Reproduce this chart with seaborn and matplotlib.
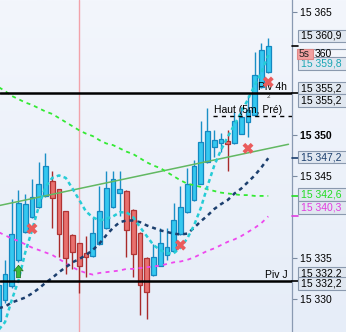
import numpy as np
import pandas as pd
import matplotlib
matplotlib.use("Agg")
import matplotlib.pyplot as plt
import seaborn as sns
from matplotlib.patches import Rectangle
from matplotlib.path import Path
from matplotlib.colors import LinearSegmentedColormap

# ---------------- data ----------------
opens  = [15327.4, 15329.9, 15331.6, 15334.8, 15338.2, 15340.0, 15341.2, 15342.6, 15344.4, 15343.4,
          15340.7, 15337.8, 15336.8, 15335.6, 15335.3, 15336.7, 15338.7, 15341.2, 15342.9, 15343.2,
          15340.9, 15338.1, 15335.0, 15332.9, 15334.1, 15335.4, 15335.9, 15337.9, 15340.6, 15342.1,
          15344.1, 15346.7, 15348.6, 15349.0, 15349.3, 15349.0, 15350.2, 15351.6, 15352.5, 15355.9,
          15357.7]
highs  = [15332.8, 15334.8, 15342.2, 15343.3, 15342.8, 15344.7, 15346.7, 15347.8, 15345.7, 15343.5,
          15340.8, 15337.9, 15336.9, 15337.7, 15340.0, 15343.8, 15345.7, 15345.7, 15345.7, 15343.3,
          15341.0, 15338.2, 15335.1, 15336.7, 15338.7, 15338.7, 15341.7, 15343.8, 15346.0, 15347.0,
          15351.8, 15353.3, 15350.6, 15350.3, 15350.7, 15352.8, 15353.5, 15354.9, 15360.1, 15361.3,
          15361.9]
lows   = [15326.7, 15329.5, 15331.4, 15334.6, 15338.1, 15339.9, 15341.1, 15342.5, 15338.7, 15335.2,
          15333.1, 15333.7, 15330.7, 15332.7, 15335.2, 15336.6, 15338.6, 15341.1, 15340.2, 15335.2,
          15332.7, 15328.1, 15327.6, 15332.8, 15334.0, 15334.8, 15335.8, 15337.8, 15340.5, 15342.0,
          15344.0, 15346.6, 15347.4, 15348.0, 15345.7, 15348.9, 15350.1, 15349.8, 15352.4, 15355.8,
          15357.6]
closes = [15331.7, 15333.1, 15338.0, 15341.7, 15341.6, 15342.5, 15344.0, 15346.2, 15342.3, 15338.0,
          15335.0, 15335.7, 15334.1, 15335.2, 15338.1, 15340.7, 15343.6, 15344.7, 15343.4, 15338.5,
          15335.5, 15331.7, 15330.9, 15335.2, 15336.9, 15336.4, 15339.7, 15341.2, 15344.1, 15346.3,
          15349.2, 15350.5, 15349.4, 15349.5, 15348.9, 15351.8, 15352.2, 15353.1, 15357.4, 15360.4,
          15360.9]

ma_cyan = [15326.2, 15327.2, 15329.9, 15332.3, 15335.7, 15338.4, 15341.3, 15343.7, 15344.8, 15345.1,
           15344.8, 15343.5, 15342.1, 15340.7, 15340.0, 15339.6, 15339.8, 15340.1, 15340.6, 15340.6,
           15340.0, 15338.8, 15337.7, 15336.6, 15336.0, 15335.6, 15335.6, 15336.3, 15337.4, 15339.0,
           15341.1, 15343.8, 15346.3, 15348.2, 15349.8, 15351.3, 15352.8, 15354.4, 15356.1, 15357.7,
           15359.8]
ma_navy = [15328.9, 15329.1, 15329.6, 15329.9, 15330.2, 15330.7, 15331.3, 15332.0, 15332.6, 15333.3,
           15333.9, 15334.5, 15334.9, 15335.4, 15336.0, 15336.8, 15337.8, 15338.7, 15339.4, 15339.6,
           15339.6, 15339.4, 15339.0, 15338.7, 15338.4, 15338.2, 15338.0, 15337.9, 15338.0, 15338.7,
           15339.5, 15340.2, 15341.0, 15341.6, 15342.1, 15342.9, 15343.5, 15344.3, 15345.1, 15346.1,
           15347.2]
ma_green = [15355.9, 15355.4, 15354.8, 15354.4, 15354.0, 15353.7, 15353.3, 15352.9, 15352.6, 15352.1,
            15351.6, 15351.1, 15350.6, 15350.2, 15349.9, 15349.4, 15349.0, 15348.8, 15348.4, 15348.0,
            15347.7, 15347.2, 15346.7, 15346.3, 15346.0, 15345.5, 15345.0, 15344.5, 15344.1, 15343.9,
            15343.7, 15343.4, 15343.2, 15343.0, 15342.9, 15342.8, 15342.7, 15342.7, 15342.6, 15342.6,
            15342.6]
ma_magenta = [15338.2, 15337.8, 15337.4, 15337.1, 15336.7, 15336.3, 15336.0, 15335.7, 15335.4, 15334.9,
              15334.4, 15333.9, 15333.5, 15333.2, 15333.0, 15333.2, 15333.3, 15333.4, 15333.5, 15333.7,
              15333.7, 15333.8, 15333.9, 15334.0, 15334.1, 15334.3, 15334.5, 15334.6, 15334.8, 15335.1,
              15335.5, 15335.9, 15336.2, 15336.6, 15337.0, 15337.3, 15337.7, 15338.2, 15338.7, 15339.3,
              15340.1]

trend_x = [0, 43]
trend_y = [15341.4, 15348.9]

piv_4h = 15355.2
piv_j = 15332.2
haut_pre = 15352.3
haut_start = 31.8
vline_idx = 12

sell_x = [5, 27, 37, 40]
sell_y = [15338.6, 15336.6, 15348.4, 15356.5]
buy_x = [3]
buy_y = [15333.4]

tick_vals = [15330, 15335, 15345, 15350, 15365]
tick_labels = ["15 330", "15 335", "15 345", "15 350", "15 365"]

# price boxes on the right: (text, text colour)
box_texts = ["15 360,9", "15 359,8", "15 355,2", "15 355,2",
             "15 347,2", "15 342,6", "15 340,3", "15 332,2", "15 332,2"]
box_colors = ["black", "#1aa6b4", "black", "black",
              "#1c3f6e", "#22dd22", "#e03ce0", "black", "black"]
box_pix_y = [36, 63.7, 88.2, 100.4, 157, 194.7, 207.5, 273, 283.5]

# ---------------- style ----------------
sns.set_theme(style="white")
plt.rcParams['font.family'] = ['Liberation Sans', 'DejaVu Sans']

W, H = 346, 332
fig = plt.figure(figsize=(W / 100, H / 100), dpi=100)

bg = fig.add_axes([0, 0, 1, 1], zorder=-1)
cmap = LinearSegmentedColormap.from_list('bgc', ['#f3f6fc', '#e6edf8'])
bg.imshow(np.linspace(0, 1, 200)[:, None], cmap=cmap, aspect='auto', extent=[0, 1, 0, 1])
bg.axis('off')

ax = fig.add_axes([0, 0, 292 / W, 1])
ax.set_facecolor('none')

XL = (0.26, 43.52)
YL = (15326.0, 15366.5)

idx = np.arange(len(opens))
df = pd.DataFrame(dict(i=idx, o=opens, h=highs, l=lows, c=closes))
up = (df.c >= df.o).values

# vertical pink marker
ax.axvline(vline_idx, color='#f2a2aa', lw=1.0, zorder=1)

# candles
wick_cols = np.where(up, '#1a8fc6', '#a82a2a')
ax.vlines(df.i, df.l, df.h, colors=wick_cols, lw=1.0, zorder=2)
body_h = np.maximum(np.abs(df.c - df.o), 0.35)
body_b = np.minimum(df.o, df.c)
ax.bar(df.i, body_h, bottom=body_b, width=0.72,
       color=np.where(up, '#34c8f0', '#e8706e'),
       edgecolor=np.where(up, '#1588c0', '#b03434'), linewidth=0.9, zorder=3)

# trend line
sns.lineplot(x=trend_x, y=trend_y, ax=ax, color='#62b862', lw=1.1, zorder=4)

# moving averages
sns.lineplot(x=idx, y=ma_green, ax=ax, color='#33ea33', lw=1.3, linestyle=(0, (2.2, 2.2)), zorder=4)
sns.lineplot(x=idx, y=ma_magenta, ax=ax, color='#ee48ee', lw=1.3, linestyle=(0, (2.2, 2.4)), zorder=4)
sns.lineplot(x=idx, y=ma_navy, ax=ax, color='#1c3f6e', lw=1.8, linestyle=(0, (1.6, 1.6)), zorder=4)
sns.lineplot(x=idx, y=ma_cyan, ax=ax, color='#26ccd6', lw=1.8, linestyle=(0, (1.6, 1.3)), zorder=4)

# pivot levels
ax.axhline(piv_4h, color='black', lw=1.8, zorder=4)
ax.axhline(piv_j, color='black', lw=1.8, zorder=4)
ax.hlines(haut_pre, haut_start, XL[1], colors='black', lw=1.0, linestyles=(0, (3, 3)), zorder=4)

ax.annotate("Piv 4h", xy=(XL[1], piv_4h), xytext=(-3.5, 0.6), textcoords='offset points',
            ha='right', va='bottom', fontsize=7.5, color='black', zorder=6)
ax.annotate("2", xy=(XL[1], piv_4h), xytext=(-17, -1.2), textcoords='offset points',
            ha='center', va='top', fontsize=4.5, color='#333333', zorder=6)
ax.annotate("Piv J", xy=(XL[1], piv_j), xytext=(-3.5, 0.6), textcoords='offset points',
            ha='right', va='bottom', fontsize=7.5, color='black', zorder=6)
ax.annotate("Haut (5m, Pré)", xy=(haut_start, haut_pre), xytext=(0.5, 1.0), textcoords='offset points',
            ha='left', va='bottom', fontsize=7.5, color='black', zorder=6)

# signals
ax.scatter(sell_x, sell_y, marker='X', s=62, color='#ea5c5c', edgecolor='none', zorder=6)
arrow = Path([(0, 1), (0.75, 0.1), (0.32, 0.1), (0.32, -1), (-0.32, -1), (-0.32, 0.1), (-0.75, 0.1), (0, 1)])
ax.scatter(buy_x, buy_y, marker=arrow, s=80, color='#3cba3c', edgecolor='#1e6e1e', linewidth=0.5, zorder=6)

# short coloured level ticks into the price scale
for v, col in [(piv_4h, 'black'), (ma_navy[-1], '#1c3f6e'), (ma_green[-1], '#22dd22'),
               (ma_magenta[-1], '#e03ce0'), (piv_j, 'black'), (closes[-1], 'black')]:
    ax.plot([XL[1], XL[1] + 0.9], [v, v], color=col, lw=1.2, clip_on=False, zorder=5)

# axes
ax.set_xlim(*XL)
ax.set_ylim(*YL)
ax.set_xticks([])
ax.set_xlabel('')
ax.set_ylabel('')
ax.yaxis.tick_right()
ax.set_yticks(tick_vals)
ax.set_yticklabels(tick_labels)
ax.tick_params(axis='y', direction='out', length=3.5, width=0.8, color='#7a8aa0', pad=2.5,
               labelsize=7.5, labelcolor='black')
for lab in ax.get_yticklabels():
    if lab.get_text() == "15 350":
        lab.set_fontweight('bold')
for s in ['top', 'left', 'bottom']:
    ax.spines[s].set_visible(False)
ax.spines['right'].set_color('#8a9ab2')
ax.spines['right'].set_linewidth(0.9)

# price boxes
def price_box(yc, text, color, z, fc='#e0e7f0', ec='#8a99ae', x0=298, x1=347, h=12.5, tx=301):
    fig.add_artist(Rectangle((x0 / W, 1 - (yc + h / 2) / H), (x1 - x0) / W, h / H,
                             transform=fig.transFigure, fc=fc, ec=ec, lw=0.8, zorder=z))
    fig.text(tx / W, 1 - yc / H, text, color=color, fontsize=7.5, va='center', ha='left', zorder=z + 0.5)

# current-price box, mostly hidden by the boxes drawn over it
price_box(55.5, "", 'black', 9, fc='#f2f5fa')
fig.text(315 / W, 1 - 54.3 / H, "360", color='black', fontsize=7.5, va='center', ha='left', zorder=9.5)

for k, (t, c, yc) in enumerate(zip(box_texts, box_colors, box_pix_y)):
    price_box(yc, t, c, 10 + k)
price_box(53.8, "5s", '#222222', 30, fc='#f3a0a0', ec='#e08888', x0=297, x1=313, h=9.7, tx=299)

fig.savefig("out.png", dpi=100)
